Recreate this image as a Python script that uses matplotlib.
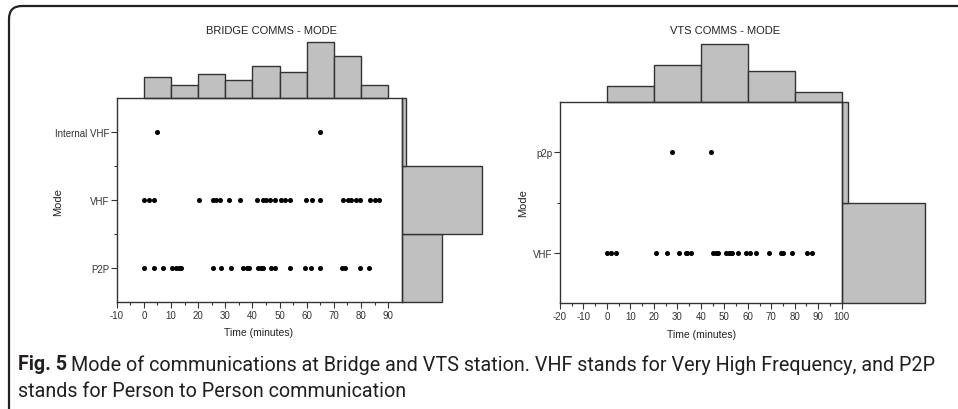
import matplotlib
matplotlib.use('Agg')
import matplotlib.pyplot as plt
from matplotlib.patches import FancyBboxPatch

W, H = 958, 410
plt.rcParams['font.family'] = ['Liberation Sans', 'DejaVu Sans']
plt.rcParams['axes.unicode_minus'] = False

# ---- data ----
bridge_modes = ['P2P', 'VHF', 'Internal VHF']
bridge_p2p = [0, 3.7, 7, 10.4, 11.9, 12.8, 13.8, 25.4, 28.4, 32, 36.7, 38.1, 38.9,
              42.2, 43.2, 44, 46.7, 48.3, 53.8, 59.5, 61.4, 64.8, 73.1, 74, 79.7, 82.9]
bridge_vhf = [0, 1.8, 3.7, 20.2, 25.3, 26.5, 28.1, 31.5, 35.6, 41.8, 43.8, 45, 46.5,
              48.3, 50.4, 52, 53.8, 59.7, 62.1, 64.8, 73.3, 75.2, 76.4, 78.3, 79.7,
              83.4, 85, 86.5]
bridge_ivhf = [4.9, 65]
bridge_bins = [0, 10, 20, 30, 40, 50, 60, 70, 80, 90]
bridge_time_counts = [8, 5, 9, 7, 12, 10, 21, 16, 5]
bridge_mode_counts = [17, 34, 2]
bridge_xticks = [-10, 0, 10, 20, 30, 40, 50, 60, 70, 80, 90]

vts_modes = ['VHF', 'p2p']
vts_vhf = [0.2, 1.7, 3.9, 20.9, 25.7, 30.6, 33.6, 34.3, 35.8, 45.3, 46.3, 47.2, 50.6,
           52, 52.7, 53.4, 55.7, 59.1, 61, 63.5, 69.1, 74.2, 75.2, 78.7, 85.1, 87.5]
vts_p2p = [27.6, 44.2]
vts_bins = [0, 20, 40, 60, 80, 100]
vts_time_counts = [3, 7, 11, 6, 2]
vts_mode_counts = [26, 2]
vts_xticks = [-20, -10, 0, 10, 20, 30, 40, 50, 60, 70, 80, 90, 100]

EDGE = '#333333'
FILL = '#c0c0c0'

fig = plt.figure(figsize=(W / 100, H / 100), dpi=100)


def px_axes(x0, y0, x1, y1):
    return fig.add_axes([x0 / W, (H - y1) / H, (x1 - x0) / W, (y1 - y0) / H])


def panel(box, xlim, xticks, modes, series, bins, tcounts, mcounts, tunit, munit):
    x0, y0, x1, y1 = box
    # top histogram
    axt = px_axes(x0, y0 - 60, x1, y0)
    widths = [b - a for a, b in zip(bins[:-1], bins[1:])]
    axt.bar(bins[:-1], tcounts, width=widths, align='edge', color=FILL,
            edgecolor=EDGE, lw=1, clip_on=False)
    axt.set_xlim(xlim)
    axt.set_ylim(0, 60 / tunit)
    axt.axis('off')
    # right histogram
    axr = px_axes(x1, y0, x1 + 90, y1)
    axr.barh(range(len(modes)), mcounts, height=1, color=FILL, edgecolor=EDGE,
             lw=1, clip_on=False)
    axr.set_ylim(-0.5, len(modes) - 0.5)
    axr.set_xlim(0, 90 / munit)
    axr.axis('off')
    # main scatter
    ax = px_axes(x0, y0, x1, y1)
    ax.set_zorder(3)
    ax.patch.set_alpha(0)
    for i, xs in enumerate(series):
        ax.plot(xs, [i] * len(xs), 'o', ms=2.6, color='k', ls='none')
    ax.set_xlim(xlim)
    ax.set_ylim(-0.5, len(modes) - 0.5)
    ax.set_yticks(range(len(modes)))
    ax.set_yticklabels(modes)
    ax.set_yticks([i + 0.5 for i in range(len(modes) - 1)], minor=True)
    ax.set_xticks(xticks)
    ax.set_xticks([t + 5 for t in xticks[:-1]], minor=True)
    ax.tick_params(which='major', direction='out', length=4, width=0.8,
                   labelsize=7, colors=EDGE, pad=1.5)
    ax.tick_params(which='minor', direction='out', length=2.5, width=0.8, colors=EDGE)
    for s in ax.spines.values():
        s.set_color(EDGE)
        s.set_linewidth(1)
    return ax


panel((116.7, 99.3, 401.7, 303.3), (-10, 95), bridge_xticks, bridge_modes,
      [bridge_p2p, bridge_vhf, bridge_ivhf], bridge_bins, bridge_time_counts,
      bridge_mode_counts, 2.67, 2.37)
panel((560, 103.3, 841.7, 304), (-20, 100), vts_xticks, vts_modes,
      [vts_vhf, vts_p2p], vts_bins, vts_time_counts, vts_mode_counts, 5.3, 3.22)


def ftext(x, y, s, **kw):
    return fig.text(x / W, 1 - y / H, s, **kw)


ftext(271.5, 31, 'BRIDGE COMMS - MODE', ha='center', va='center', fontsize=8, color='#222')
ftext(725, 31, 'VTS COMMS - MODE', ha='center', va='center', fontsize=8, color='#222')
ftext(259, 333, 'Time (minutes)', ha='center', va='center', fontsize=7.5, color='#222')
ftext(702, 335, 'Time (minutes)', ha='center', va='center', fontsize=7.5, color='#222')
ftext(58, 202, 'Mode', ha='center', va='center', rotation=90, fontsize=8, color='#222')
ftext(523, 203, 'Mode', ha='center', va='center', rotation=90, fontsize=8, color='#222')

# caption
cap_font = ['Roboto', 'DejaVu Sans']
cap_size = 14.2
t1 = ftext(18, 365, 'Fig. 5', ha='left', va='center', fontsize=cap_size,
           fontweight='bold', family=cap_font, color='#231f20')
r = fig.canvas.get_renderer()
bb = t1.get_window_extent(renderer=r)
ftext(bb.x1 + 4, 365, 'Mode of communications at Bridge and VTS station. VHF stands for '
      'Very High Frequency, and P2P', ha='left', va='center', fontsize=cap_size,
      family=cap_font, color='#231f20')
ftext(18, 392, 'stands for Person to Person communication', ha='left', va='center',
      fontsize=cap_size, family=cap_font, color='#231f20')

# outer frame with rounded corner
frame = FancyBboxPatch((0.09, -0.5), 10, (H - 7) / 100 + 0.5,
                       boxstyle='round,pad=0,rounding_size=0.13',
                       transform=fig.dpi_scale_trans, fill=False,
                       edgecolor='#222', lw=1.6)
fig.patches.append(frame)

fig.savefig('out.png', dpi=100)
